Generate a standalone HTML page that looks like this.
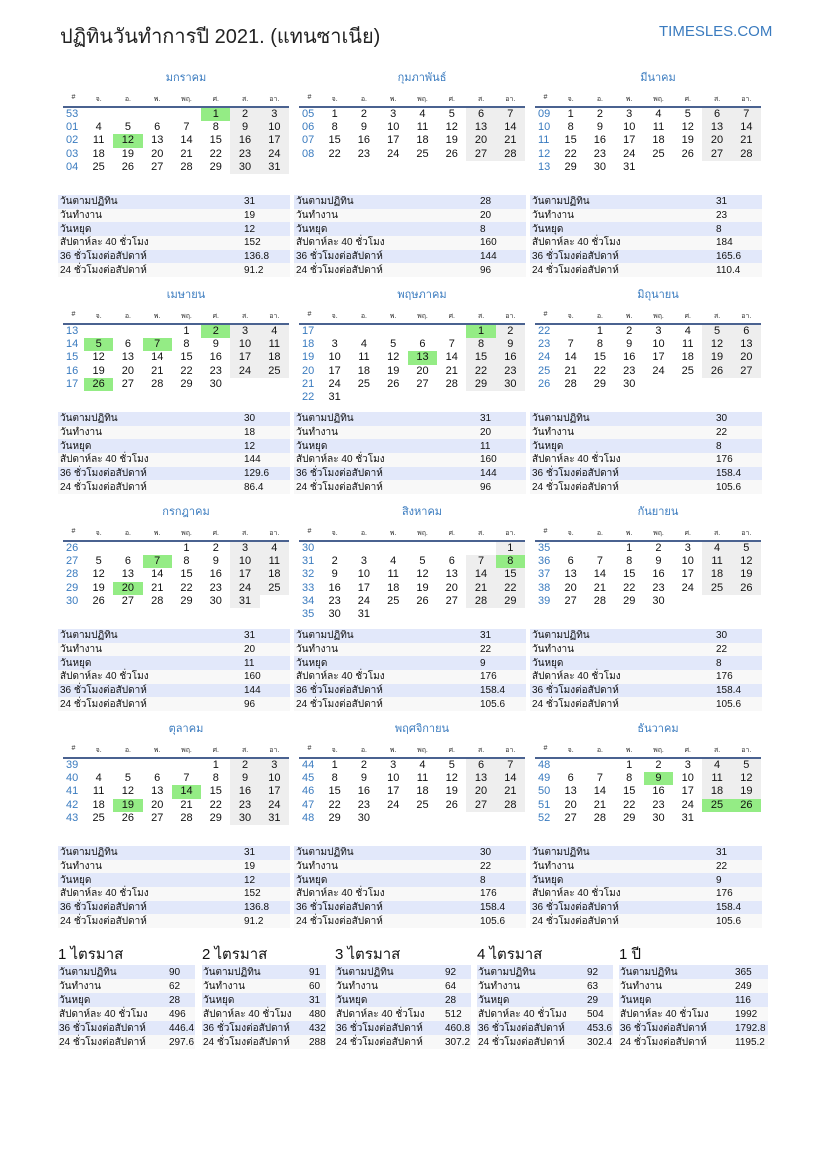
<!DOCTYPE html>
<html><head><meta charset="utf-8"><style>
*{margin:0;padding:0;box-sizing:border-box}
body{width:827px;height:1169px;background:#fff;font-family:"Liberation Sans","DejaVu Sans",sans-serif;color:#111;position:relative;overflow:hidden}
.h1{position:absolute;left:60px;top:20px;font-size:20px;color:#222}
.logo{position:absolute;left:659px;top:23px;font-size:15px;color:#3a7bbf}
.m{position:absolute;width:226px}
.mt{height:16px;text-align:center;color:#3a7bbf;font-size:11px;line-height:16px;padding-left:20px}
table{border-collapse:collapse;width:100%;table-layout:fixed}
.cal th{font-size:7px;font-weight:normal;color:#333;height:21px;border-bottom:2px solid #4a6290;vertical-align:top;padding-top:8px}
.cal td{height:13.3px;font-size:11px;text-align:center;line-height:13px}
.cal td:first-child{color:#3a7bbf;text-align:left;padding-left:3px}
.cal td:nth-child(n+7):not(:empty){background:#eee}
.cal td.g{background:#94ec85!important}
.cal col.w{width:21px}
.st{position:absolute;width:232px}
.st td{height:13.7px;font-size:10px;line-height:13px;padding-left:2px;white-space:nowrap}
.st tr:nth-child(odd){background:#e2e8fa}
.st tr:nth-child(even){background:#f8f8f8}
.st td:last-child{width:48px}
.q{position:absolute;top:945px}
.q .qt{font-size:15px;height:20px;line-height:20px}
.q table td{height:14px;font-size:10px;line-height:13px;white-space:nowrap;padding-left:1px}
.q tr:nth-child(odd){background:#e2e8fa}
.q tr:nth-child(even){background:#f8f8f8}
</style></head><body>
<div class="h1">ปฏิทินวันทำการปี 2021. (แทนซาเนีย)</div>
<div class="logo">TIMESLES.COM</div>

<!-- Row 1 -->
<div class="m" style="left:63px;top:70px"><div class="mt">มกราคม</div><table class="cal"><col class="w"><col><col><col><col><col><col><col>
<tr><th>#</th><th>จ.</th><th>อ.</th><th>พ.</th><th>พฤ.</th><th>ศ.</th><th>ส.</th><th>อา.</th></tr>
<tr><td>53</td><td></td><td></td><td></td><td></td><td class="g">1</td><td>2</td><td>3</td></tr>
<tr><td>01</td><td>4</td><td>5</td><td>6</td><td>7</td><td>8</td><td>9</td><td>10</td></tr>
<tr><td>02</td><td>11</td><td class="g">12</td><td>13</td><td>14</td><td>15</td><td>16</td><td>17</td></tr>
<tr><td>03</td><td>18</td><td>19</td><td>20</td><td>21</td><td>22</td><td>23</td><td>24</td></tr>
<tr><td>04</td><td>25</td><td>26</td><td>27</td><td>28</td><td>29</td><td>30</td><td>31</td></tr>
</table></div>
<div class="m" style="left:299px;top:70px"><div class="mt">กุมภาพันธ์</div><table class="cal"><col class="w"><col><col><col><col><col><col><col>
<tr><th>#</th><th>จ.</th><th>อ.</th><th>พ.</th><th>พฤ.</th><th>ศ.</th><th>ส.</th><th>อา.</th></tr>
<tr><td>05</td><td>1</td><td>2</td><td>3</td><td>4</td><td>5</td><td>6</td><td>7</td></tr>
<tr><td>06</td><td>8</td><td>9</td><td>10</td><td>11</td><td>12</td><td>13</td><td>14</td></tr>
<tr><td>07</td><td>15</td><td>16</td><td>17</td><td>18</td><td>19</td><td>20</td><td>21</td></tr>
<tr><td>08</td><td>22</td><td>23</td><td>24</td><td>25</td><td>26</td><td>27</td><td>28</td></tr>
</table></div>
<div class="m" style="left:535px;top:70px"><div class="mt">มีนาคม</div><table class="cal"><col class="w"><col><col><col><col><col><col><col>
<tr><th>#</th><th>จ.</th><th>อ.</th><th>พ.</th><th>พฤ.</th><th>ศ.</th><th>ส.</th><th>อา.</th></tr>
<tr><td>09</td><td>1</td><td>2</td><td>3</td><td>4</td><td>5</td><td>6</td><td>7</td></tr>
<tr><td>10</td><td>8</td><td>9</td><td>10</td><td>11</td><td>12</td><td>13</td><td>14</td></tr>
<tr><td>11</td><td>15</td><td>16</td><td>17</td><td>18</td><td>19</td><td>20</td><td>21</td></tr>
<tr><td>12</td><td>22</td><td>23</td><td>24</td><td>25</td><td>26</td><td>27</td><td>28</td></tr>
<tr><td>13</td><td>29</td><td>30</td><td>31</td><td></td><td></td><td></td><td></td></tr>
</table></div>
<table class="st" style="left:58px;top:195px"><tr><td>วันตามปฏิทิน</td><td>31</td></tr><tr><td>วันทำงาน</td><td>19</td></tr><tr><td>วันหยุด</td><td>12</td></tr><tr><td>สัปดาห์ละ 40 ชั่วโมง</td><td>152</td></tr><tr><td>36 ชั่วโมงต่อสัปดาห์</td><td>136.8</td></tr><tr><td>24 ชั่วโมงต่อสัปดาห์</td><td>91.2</td></tr></table>
<table class="st" style="left:294px;top:195px"><tr><td>วันตามปฏิทิน</td><td>28</td></tr><tr><td>วันทำงาน</td><td>20</td></tr><tr><td>วันหยุด</td><td>8</td></tr><tr><td>สัปดาห์ละ 40 ชั่วโมง</td><td>160</td></tr><tr><td>36 ชั่วโมงต่อสัปดาห์</td><td>144</td></tr><tr><td>24 ชั่วโมงต่อสัปดาห์</td><td>96</td></tr></table>
<table class="st" style="left:530px;top:195px"><tr><td>วันตามปฏิทิน</td><td>31</td></tr><tr><td>วันทำงาน</td><td>23</td></tr><tr><td>วันหยุด</td><td>8</td></tr><tr><td>สัปดาห์ละ 40 ชั่วโมง</td><td>184</td></tr><tr><td>36 ชั่วโมงต่อสัปดาห์</td><td>165.6</td></tr><tr><td>24 ชั่วโมงต่อสัปดาห์</td><td>110.4</td></tr></table>

<!-- Row 2 -->
<div class="m" style="left:63px;top:287px"><div class="mt">เมษายน</div><table class="cal"><col class="w"><col><col><col><col><col><col><col>
<tr><th>#</th><th>จ.</th><th>อ.</th><th>พ.</th><th>พฤ.</th><th>ศ.</th><th>ส.</th><th>อา.</th></tr>
<tr><td>13</td><td></td><td></td><td></td><td>1</td><td class="g">2</td><td>3</td><td>4</td></tr>
<tr><td>14</td><td class="g">5</td><td>6</td><td class="g">7</td><td>8</td><td>9</td><td>10</td><td>11</td></tr>
<tr><td>15</td><td>12</td><td>13</td><td>14</td><td>15</td><td>16</td><td>17</td><td>18</td></tr>
<tr><td>16</td><td>19</td><td>20</td><td>21</td><td>22</td><td>23</td><td>24</td><td>25</td></tr>
<tr><td>17</td><td class="g">26</td><td>27</td><td>28</td><td>29</td><td>30</td><td></td><td></td></tr>
</table></div>
<div class="m" style="left:299px;top:287px"><div class="mt">พฤษภาคม</div><table class="cal"><col class="w"><col><col><col><col><col><col><col>
<tr><th>#</th><th>จ.</th><th>อ.</th><th>พ.</th><th>พฤ.</th><th>ศ.</th><th>ส.</th><th>อา.</th></tr>
<tr><td>17</td><td></td><td></td><td></td><td></td><td></td><td class="g">1</td><td>2</td></tr>
<tr><td>18</td><td>3</td><td>4</td><td>5</td><td>6</td><td>7</td><td>8</td><td>9</td></tr>
<tr><td>19</td><td>10</td><td>11</td><td>12</td><td class="g">13</td><td>14</td><td>15</td><td>16</td></tr>
<tr><td>20</td><td>17</td><td>18</td><td>19</td><td>20</td><td>21</td><td>22</td><td>23</td></tr>
<tr><td>21</td><td>24</td><td>25</td><td>26</td><td>27</td><td>28</td><td>29</td><td>30</td></tr>
<tr><td>22</td><td>31</td><td></td><td></td><td></td><td></td><td></td><td></td></tr>
</table></div>
<div class="m" style="left:535px;top:287px"><div class="mt">มิถุนายน</div><table class="cal"><col class="w"><col><col><col><col><col><col><col>
<tr><th>#</th><th>จ.</th><th>อ.</th><th>พ.</th><th>พฤ.</th><th>ศ.</th><th>ส.</th><th>อา.</th></tr>
<tr><td>22</td><td></td><td>1</td><td>2</td><td>3</td><td>4</td><td>5</td><td>6</td></tr>
<tr><td>23</td><td>7</td><td>8</td><td>9</td><td>10</td><td>11</td><td>12</td><td>13</td></tr>
<tr><td>24</td><td>14</td><td>15</td><td>16</td><td>17</td><td>18</td><td>19</td><td>20</td></tr>
<tr><td>25</td><td>21</td><td>22</td><td>23</td><td>24</td><td>25</td><td>26</td><td>27</td></tr>
<tr><td>26</td><td>28</td><td>29</td><td>30</td><td></td><td></td><td></td><td></td></tr>
</table></div>
<table class="st" style="left:58px;top:412px"><tr><td>วันตามปฏิทิน</td><td>30</td></tr><tr><td>วันทำงาน</td><td>18</td></tr><tr><td>วันหยุด</td><td>12</td></tr><tr><td>สัปดาห์ละ 40 ชั่วโมง</td><td>144</td></tr><tr><td>36 ชั่วโมงต่อสัปดาห์</td><td>129.6</td></tr><tr><td>24 ชั่วโมงต่อสัปดาห์</td><td>86.4</td></tr></table>
<table class="st" style="left:294px;top:412px"><tr><td>วันตามปฏิทิน</td><td>31</td></tr><tr><td>วันทำงาน</td><td>20</td></tr><tr><td>วันหยุด</td><td>11</td></tr><tr><td>สัปดาห์ละ 40 ชั่วโมง</td><td>160</td></tr><tr><td>36 ชั่วโมงต่อสัปดาห์</td><td>144</td></tr><tr><td>24 ชั่วโมงต่อสัปดาห์</td><td>96</td></tr></table>
<table class="st" style="left:530px;top:412px"><tr><td>วันตามปฏิทิน</td><td>30</td></tr><tr><td>วันทำงาน</td><td>22</td></tr><tr><td>วันหยุด</td><td>8</td></tr><tr><td>สัปดาห์ละ 40 ชั่วโมง</td><td>176</td></tr><tr><td>36 ชั่วโมงต่อสัปดาห์</td><td>158.4</td></tr><tr><td>24 ชั่วโมงต่อสัปดาห์</td><td>105.6</td></tr></table>

<!-- Row 3 -->
<div class="m" style="left:63px;top:504px"><div class="mt">กรกฎาคม</div><table class="cal"><col class="w"><col><col><col><col><col><col><col>
<tr><th>#</th><th>จ.</th><th>อ.</th><th>พ.</th><th>พฤ.</th><th>ศ.</th><th>ส.</th><th>อา.</th></tr>
<tr><td>26</td><td></td><td></td><td></td><td>1</td><td>2</td><td>3</td><td>4</td></tr>
<tr><td>27</td><td>5</td><td>6</td><td class="g">7</td><td>8</td><td>9</td><td>10</td><td>11</td></tr>
<tr><td>28</td><td>12</td><td>13</td><td>14</td><td>15</td><td>16</td><td>17</td><td>18</td></tr>
<tr><td>29</td><td>19</td><td class="g">20</td><td>21</td><td>22</td><td>23</td><td>24</td><td>25</td></tr>
<tr><td>30</td><td>26</td><td>27</td><td>28</td><td>29</td><td>30</td><td>31</td><td></td></tr>
</table></div>
<div class="m" style="left:299px;top:504px"><div class="mt">สิงหาคม</div><table class="cal"><col class="w"><col><col><col><col><col><col><col>
<tr><th>#</th><th>จ.</th><th>อ.</th><th>พ.</th><th>พฤ.</th><th>ศ.</th><th>ส.</th><th>อา.</th></tr>
<tr><td>30</td><td></td><td></td><td></td><td></td><td></td><td></td><td>1</td></tr>
<tr><td>31</td><td>2</td><td>3</td><td>4</td><td>5</td><td>6</td><td>7</td><td class="g">8</td></tr>
<tr><td>32</td><td>9</td><td>10</td><td>11</td><td>12</td><td>13</td><td>14</td><td>15</td></tr>
<tr><td>33</td><td>16</td><td>17</td><td>18</td><td>19</td><td>20</td><td>21</td><td>22</td></tr>
<tr><td>34</td><td>23</td><td>24</td><td>25</td><td>26</td><td>27</td><td>28</td><td>29</td></tr>
<tr><td>35</td><td>30</td><td>31</td><td></td><td></td><td></td><td></td><td></td></tr>
</table></div>
<div class="m" style="left:535px;top:504px"><div class="mt">กันยายน</div><table class="cal"><col class="w"><col><col><col><col><col><col><col>
<tr><th>#</th><th>จ.</th><th>อ.</th><th>พ.</th><th>พฤ.</th><th>ศ.</th><th>ส.</th><th>อา.</th></tr>
<tr><td>35</td><td></td><td></td><td>1</td><td>2</td><td>3</td><td>4</td><td>5</td></tr>
<tr><td>36</td><td>6</td><td>7</td><td>8</td><td>9</td><td>10</td><td>11</td><td>12</td></tr>
<tr><td>37</td><td>13</td><td>14</td><td>15</td><td>16</td><td>17</td><td>18</td><td>19</td></tr>
<tr><td>38</td><td>20</td><td>21</td><td>22</td><td>23</td><td>24</td><td>25</td><td>26</td></tr>
<tr><td>39</td><td>27</td><td>28</td><td>29</td><td>30</td><td></td><td></td><td></td></tr>
</table></div>
<table class="st" style="left:58px;top:629px"><tr><td>วันตามปฏิทิน</td><td>31</td></tr><tr><td>วันทำงาน</td><td>20</td></tr><tr><td>วันหยุด</td><td>11</td></tr><tr><td>สัปดาห์ละ 40 ชั่วโมง</td><td>160</td></tr><tr><td>36 ชั่วโมงต่อสัปดาห์</td><td>144</td></tr><tr><td>24 ชั่วโมงต่อสัปดาห์</td><td>96</td></tr></table>
<table class="st" style="left:294px;top:629px"><tr><td>วันตามปฏิทิน</td><td>31</td></tr><tr><td>วันทำงาน</td><td>22</td></tr><tr><td>วันหยุด</td><td>9</td></tr><tr><td>สัปดาห์ละ 40 ชั่วโมง</td><td>176</td></tr><tr><td>36 ชั่วโมงต่อสัปดาห์</td><td>158.4</td></tr><tr><td>24 ชั่วโมงต่อสัปดาห์</td><td>105.6</td></tr></table>
<table class="st" style="left:530px;top:629px"><tr><td>วันตามปฏิทิน</td><td>30</td></tr><tr><td>วันทำงาน</td><td>22</td></tr><tr><td>วันหยุด</td><td>8</td></tr><tr><td>สัปดาห์ละ 40 ชั่วโมง</td><td>176</td></tr><tr><td>36 ชั่วโมงต่อสัปดาห์</td><td>158.4</td></tr><tr><td>24 ชั่วโมงต่อสัปดาห์</td><td>105.6</td></tr></table>

<!-- Row 4 -->
<div class="m" style="left:63px;top:721px"><div class="mt">ตุลาคม</div><table class="cal"><col class="w"><col><col><col><col><col><col><col>
<tr><th>#</th><th>จ.</th><th>อ.</th><th>พ.</th><th>พฤ.</th><th>ศ.</th><th>ส.</th><th>อา.</th></tr>
<tr><td>39</td><td></td><td></td><td></td><td></td><td>1</td><td>2</td><td>3</td></tr>
<tr><td>40</td><td>4</td><td>5</td><td>6</td><td>7</td><td>8</td><td>9</td><td>10</td></tr>
<tr><td>41</td><td>11</td><td>12</td><td>13</td><td class="g">14</td><td>15</td><td>16</td><td>17</td></tr>
<tr><td>42</td><td>18</td><td class="g">19</td><td>20</td><td>21</td><td>22</td><td>23</td><td>24</td></tr>
<tr><td>43</td><td>25</td><td>26</td><td>27</td><td>28</td><td>29</td><td>30</td><td>31</td></tr>
</table></div>
<div class="m" style="left:299px;top:721px"><div class="mt">พฤศจิกายน</div><table class="cal"><col class="w"><col><col><col><col><col><col><col>
<tr><th>#</th><th>จ.</th><th>อ.</th><th>พ.</th><th>พฤ.</th><th>ศ.</th><th>ส.</th><th>อา.</th></tr>
<tr><td>44</td><td>1</td><td>2</td><td>3</td><td>4</td><td>5</td><td>6</td><td>7</td></tr>
<tr><td>45</td><td>8</td><td>9</td><td>10</td><td>11</td><td>12</td><td>13</td><td>14</td></tr>
<tr><td>46</td><td>15</td><td>16</td><td>17</td><td>18</td><td>19</td><td>20</td><td>21</td></tr>
<tr><td>47</td><td>22</td><td>23</td><td>24</td><td>25</td><td>26</td><td>27</td><td>28</td></tr>
<tr><td>48</td><td>29</td><td>30</td><td></td><td></td><td></td><td></td><td></td></tr>
</table></div>
<div class="m" style="left:535px;top:721px"><div class="mt">ธันวาคม</div><table class="cal"><col class="w"><col><col><col><col><col><col><col>
<tr><th>#</th><th>จ.</th><th>อ.</th><th>พ.</th><th>พฤ.</th><th>ศ.</th><th>ส.</th><th>อา.</th></tr>
<tr><td>48</td><td></td><td></td><td>1</td><td>2</td><td>3</td><td>4</td><td>5</td></tr>
<tr><td>49</td><td>6</td><td>7</td><td>8</td><td class="g">9</td><td>10</td><td>11</td><td>12</td></tr>
<tr><td>50</td><td>13</td><td>14</td><td>15</td><td>16</td><td>17</td><td>18</td><td>19</td></tr>
<tr><td>51</td><td>20</td><td>21</td><td>22</td><td>23</td><td>24</td><td class="g">25</td><td class="g">26</td></tr>
<tr><td>52</td><td>27</td><td>28</td><td>29</td><td>30</td><td>31</td><td></td><td></td></tr>
</table></div>
<table class="st" style="left:58px;top:846px"><tr><td>วันตามปฏิทิน</td><td>31</td></tr><tr><td>วันทำงาน</td><td>19</td></tr><tr><td>วันหยุด</td><td>12</td></tr><tr><td>สัปดาห์ละ 40 ชั่วโมง</td><td>152</td></tr><tr><td>36 ชั่วโมงต่อสัปดาห์</td><td>136.8</td></tr><tr><td>24 ชั่วโมงต่อสัปดาห์</td><td>91.2</td></tr></table>
<table class="st" style="left:294px;top:846px"><tr><td>วันตามปฏิทิน</td><td>30</td></tr><tr><td>วันทำงาน</td><td>22</td></tr><tr><td>วันหยุด</td><td>8</td></tr><tr><td>สัปดาห์ละ 40 ชั่วโมง</td><td>176</td></tr><tr><td>36 ชั่วโมงต่อสัปดาห์</td><td>158.4</td></tr><tr><td>24 ชั่วโมงต่อสัปดาห์</td><td>105.6</td></tr></table>
<table class="st" style="left:530px;top:846px"><tr><td>วันตามปฏิทิน</td><td>31</td></tr><tr><td>วันทำงาน</td><td>22</td></tr><tr><td>วันหยุด</td><td>9</td></tr><tr><td>สัปดาห์ละ 40 ชั่วโมง</td><td>176</td></tr><tr><td>36 ชั่วโมงต่อสัปดาห์</td><td>158.4</td></tr><tr><td>24 ชั่วโมงต่อสัปดาห์</td><td>105.6</td></tr></table>

<!-- Quarters -->
<div class="q" style="left:58px;width:137px"><div class="qt">1 ไตรมาส</div><table><col><col style="width:27px"><tr><td>วันตามปฏิทิน</td><td>90</td></tr><tr><td>วันทำงาน</td><td>62</td></tr><tr><td>วันหยุด</td><td>28</td></tr><tr><td>สัปดาห์ละ 40 ชั่วโมง</td><td>496</td></tr><tr><td>36 ชั่วโมงต่อสัปดาห์</td><td>446.4</td></tr><tr><td>24 ชั่วโมงต่อสัปดาห์</td><td>297.6</td></tr></table></div>
<div class="q" style="left:202px;width:124px"><div class="qt">2 ไตรมาส</div><table><col><col style="width:18px"><tr><td>วันตามปฏิทิน</td><td>91</td></tr><tr><td>วันทำงาน</td><td>60</td></tr><tr><td>วันหยุด</td><td>31</td></tr><tr><td>สัปดาห์ละ 40 ชั่วโมง</td><td>480</td></tr><tr><td>36 ชั่วโมงต่อสัปดาห์</td><td>432</td></tr><tr><td>24 ชั่วโมงต่อสัปดาห์</td><td>288</td></tr></table></div>
<div class="q" style="left:335px;width:136px"><div class="qt">3 ไตรมาส</div><table><col><col style="width:27px"><tr><td>วันตามปฏิทิน</td><td>92</td></tr><tr><td>วันทำงาน</td><td>64</td></tr><tr><td>วันหยุด</td><td>28</td></tr><tr><td>สัปดาห์ละ 40 ชั่วโมง</td><td>512</td></tr><tr><td>36 ชั่วโมงต่อสัปดาห์</td><td>460.8</td></tr><tr><td>24 ชั่วโมงต่อสัปดาห์</td><td>307.2</td></tr></table></div>
<div class="q" style="left:477px;width:136px"><div class="qt">4 ไตรมาส</div><table><col><col style="width:27px"><tr><td>วันตามปฏิทิน</td><td>92</td></tr><tr><td>วันทำงาน</td><td>63</td></tr><tr><td>วันหยุด</td><td>29</td></tr><tr><td>สัปดาห์ละ 40 ชั่วโมง</td><td>504</td></tr><tr><td>36 ชั่วโมงต่อสัปดาห์</td><td>453.6</td></tr><tr><td>24 ชั่วโมงต่อสัปดาห์</td><td>302.4</td></tr></table></div>
<div class="q" style="left:619px;width:149px"><div class="qt">1 ปี</div><table><col><col style="width:34px"><tr><td>วันตามปฏิทิน</td><td>365</td></tr><tr><td>วันทำงาน</td><td>249</td></tr><tr><td>วันหยุด</td><td>116</td></tr><tr><td>สัปดาห์ละ 40 ชั่วโมง</td><td>1992</td></tr><tr><td>36 ชั่วโมงต่อสัปดาห์</td><td>1792.8</td></tr><tr><td>24 ชั่วโมงต่อสัปดาห์</td><td>1195.2</td></tr></table></div>
</body></html>
